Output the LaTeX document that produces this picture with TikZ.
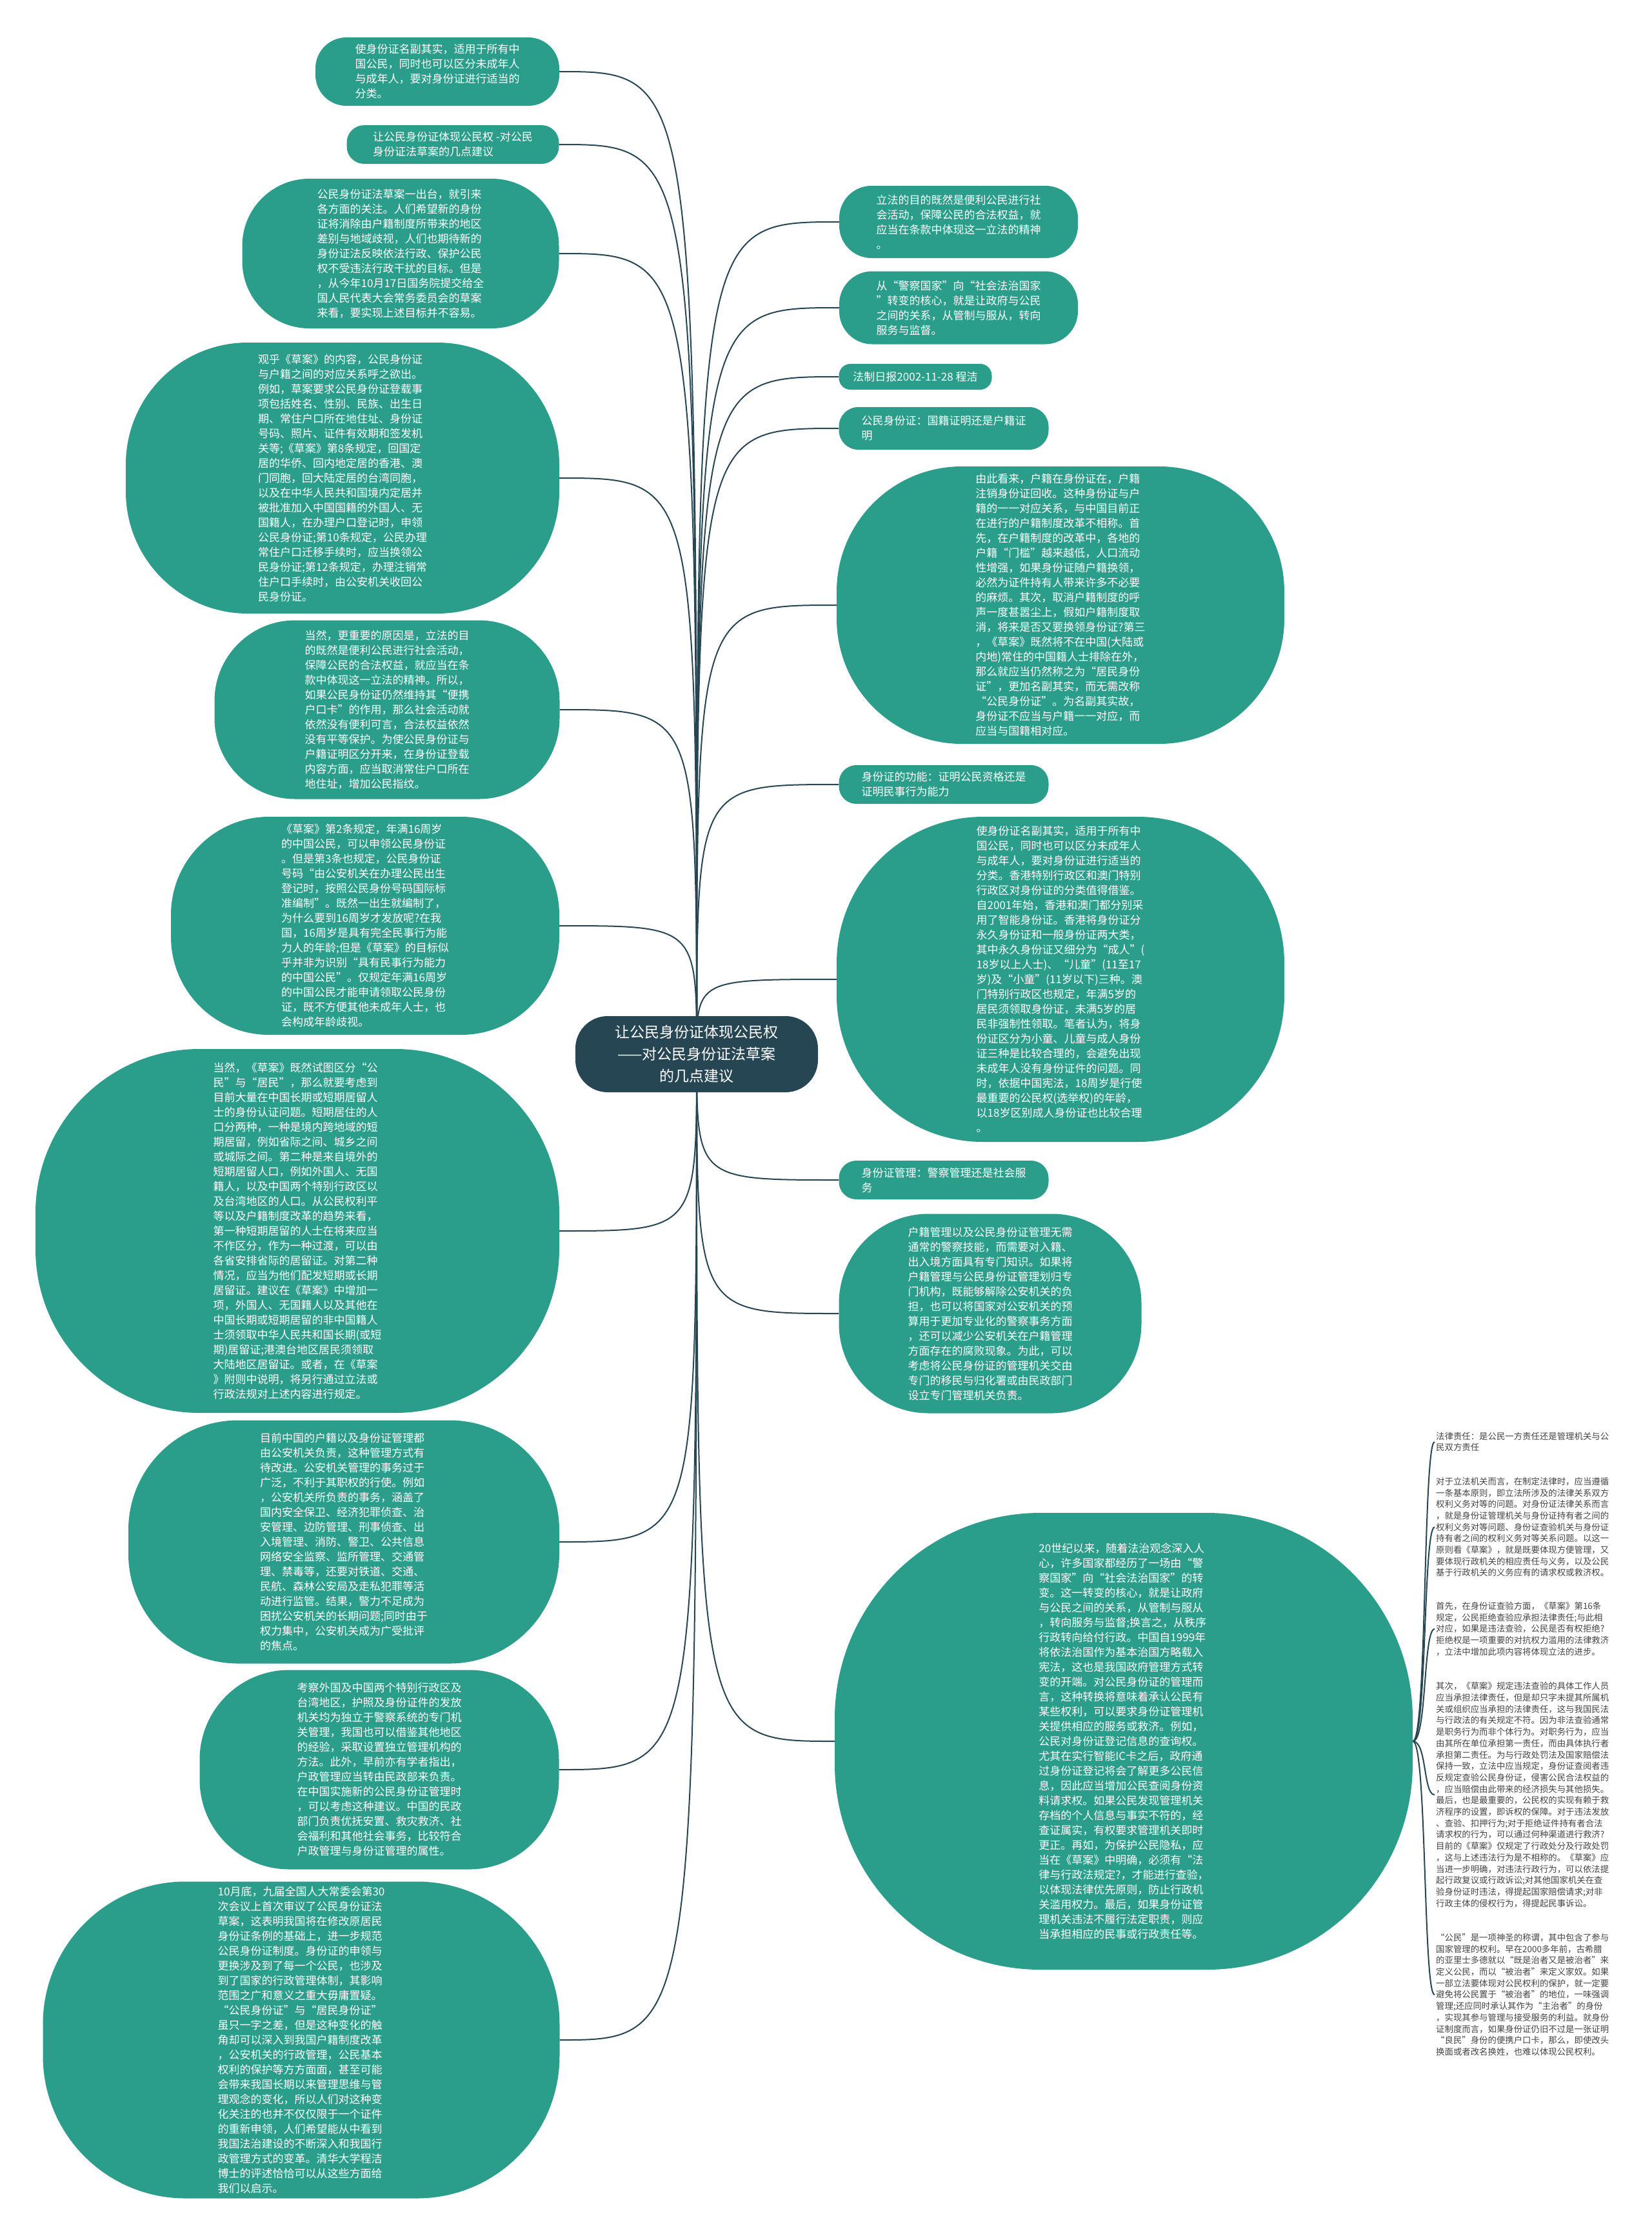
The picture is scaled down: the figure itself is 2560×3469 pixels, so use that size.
\documentclass[tikz,border=0pt]{standalone}
\usepackage{fontspec}
\setmainfont{Noto Sans CJK SC}
\definecolor{teal0}{HTML}{2B9E8B}
\definecolor{dark0}{HTML}{264653}
\definecolor{gray0}{HTML}{444444}
\pgfdeclarelayer{bg}
\pgfsetlayers{bg,main}
\tikzset{
  bub/.style={fill=teal0, text=white, align=left, inner sep=0pt, font=\fontsize{17}{23}\selectfont},
  centre/.style={fill=dark0, text=white, align=center, inner sep=0pt, font=\fontsize{23}{34}\selectfont,
    minimum width=376pt, minimum height=118pt, rounded corners=50pt},
  conn/.style={draw=dark0, line width=2pt},
  ptext/.style={text=gray0, align=left, inner sep=2pt, anchor=west, font=\fontsize{13.4}{17.7}\selectfont},
}
\newcommand\mmbub[7]{\node[bub, minimum width=#4pt, minimum height=#5pt, rounded corners=#6pt] (#1) at (#2,#3) {#7};}
\begin{document}
\begin{tikzpicture}[x=1pt,y=-1pt]
\useasboundingbox (0,0) rectangle (2560,3469);

\node[centre] (c) at (1080,1634) {让公民身份证体现公民权\\——对公民身份证法草案\\的几点建议};

% left side
\mmbub{l1}{678}{111}{378}{106}{48}{使身份证名副其实，适用于所有中\\国公民，同时也可以区分未成年人\\与成年人，要对身份证进行适当的\\分类。}
\mmbub{l2}{702}{224}{329}{60}{27}{让公民身份证体现公民权 -对公民\\身份证法草案的几点建议}
\mmbub{l3}{621}{393}{491}{232}{104}{公民身份证法草案一出台，就引来\\各方面的关注。人们希望新的身份\\证将消除由户籍制度所带来的地区\\差别与地域歧视，人们也期待新的\\身份证法反映依法行政、保护公民\\权不受违法行政干扰的目标。但是\\，从今年10月17日国务院提交给全\\国人民代表大会常务委员会的草案\\来看，要实现上述目标并不容易。}
\mmbub{l4}{531}{741}{672}{420}{189}{观乎《草案》的内容，公民身份证\\与户籍之间的对应关系呼之欲出。\\例如，草案要求公民身份证登载事\\项包括姓名、性别、民族、出生日\\期、常住户口所在地住址、身份证\\号码、照片、证件有效期和签发机\\关等;《草案》第8条规定，回国定\\居的华侨、回内地定居的香港、澳\\门同胞，回大陆定居的台湾同胞，\\以及在中华人民共和国境内定居并\\被批准加入中国国籍的外国人、无\\国籍人，在办理户口登记时，申领\\公民身份证;第10条规定，公民办理\\常住户口迁移手续时，应当换领公\\民身份证;第12条规定，办理注销常\\住户口手续时，由公安机关收回公\\民身份证。}
\mmbub{l5}{600}{1100}{535}{277}{125}{当然，更重要的原因是，立法的目\\的既然是便利公民进行社会活动，\\保障公民的合法权益，就应当在条\\款中体现这一立法的精神。所以，\\如果公民身份证仍然维持其“便携\\户口卡”的作用，那么社会活动就\\依然没有便利可言，合法权益依然\\没有平等保护。为使公民身份证与\\户籍证明区分开来，在身份证登载\\内容方面，应当取消常住户口所在\\地住址，增加公民指纹。}
\mmbub{l6}{566}{1435}{602}{338}{152}{《草案》第2条规定，年满16周岁\\的中国公民，可以申领公民身份证\\。但是第3条也规定，公民身份证\\号码“由公安机关在办理公民出生\\登记时，按照公民身份号码国际标\\准编制”。既然一出生就编制了，\\为什么要到16周岁才发放呢?在我\\国，16周岁是具有完全民事行为能\\力人的年龄;但是《草案》的目标似\\乎并非为识别“具有民事行为能力\\的中国公民”。仅规定年满16周岁\\的中国公民才能申请领取公民身份\\证，既不方便其他未成年人士，也\\会构成年龄歧视。}
\mmbub{l7}{461}{1908}{812}{564}{254}{当然，《草案》既然试图区分“公\\民”与“居民”，那么就要考虑到\\目前大量在中国长期或短期居留人\\士的身份认证问题。短期居住的人\\口分两种，一种是境内跨地域的短\\期居留，例如省际之间、城乡之间\\或城际之间。第二种是来自境外的\\短期居留人口，例如外国人、无国\\籍人，以及中国两个特别行政区以\\及台湾地区的人口。从公民权利平\\等以及户籍制度改革的趋势来看，\\第一种短期居留的人士在将来应当\\不作区分，作为一种过渡，可以由\\各省安排省际的居留证。对第二种\\情况，应当为他们配发短期或长期\\居留证。建议在《草案》中增加一\\项，外国人、无国籍人以及其他在\\中国长期或短期居留的非中国籍人\\士须领取中华人民共和国长期(或短\\期)居留证;港澳台地区居民须领取\\大陆地区居留证。或者，在《草案\\》附则中说明，将另行通过立法或\\行政法规对上述内容进行规定。}
\mmbub{l8}{533}{2390}{668}{377}{170}{目前中国的户籍以及身份证管理都\\由公安机关负责，这种管理方式有\\待改进。公安机关管理的事务过于\\广泛，不利于其职权的行使。例如\\，公安机关所负责的事务，涵盖了\\国内安全保卫、经济犯罪侦查、治\\安管理、边防管理、刑事侦查、出\\入境管理、消防、警卫、公共信息\\网络安全监察、监所管理、交通管\\理、禁毒等，还要对铁道、交通、\\民航、森林公安局及走私犯罪等活\\动进行监管。结果，警力不足成为\\困扰公安机关的长期问题;同时由于\\权力集中，公安机关成为广受批评\\的焦点。}
\mmbub{l9}{588}{2743}{557}{309}{139}{考察外国及中国两个特别行政区及\\台湾地区，护照及身份证件的发放\\机关均为独立于警察系统的专门机\\关管理，我国也可以借鉴其他地区\\的经验，采取设置独立管理机构的\\方法。此外，早前亦有学者指出，\\户政管理应当转由民政部来负责。\\在中国实施新的公民身份证管理时\\，可以考虑这种建议。中国的民政\\部门负责优抚安置、救灾救济、社\\会福利和其他社会事务，比较符合\\户政管理与身份证管理的属性。}
\mmbub{l10}{467}{3162}{801}{491}{221}{10月底，九届全国人大常委会第30\\次会议上首次审议了公民身份证法\\草案，这表明我国将在修改原居民\\身份证条例的基础上，进一步规范\\公民身份证制度。身份证的申领与\\更换涉及到了每一个公民，也涉及\\到了国家的行政管理体制，其影响\\范围之广和意义之重大毋庸置疑。\\“公民身份证”与“居民身份证”\\虽只一字之差，但是这种变化的触\\角却可以深入到我国户籍制度改革\\，公安机关的行政管理，公民基本\\权利的保护等方方面面，甚至可能\\会带来我国长期以来管理思维与管\\理观念的变化，所以人们对这种变\\化关注的也并不仅仅限于一个证件\\的重新申领，人们希望能从中看到\\我国法治建设的不断深入和我国行\\政管理方式的变革。清华大学程洁\\博士的评述恰恰可以从这些方面给\\我们以启示。}

% right side
\mmbub{r1}{1486}{344}{370}{112}{50}{立法的目的既然是便利公民进行社\\会活动，保障公民的合法权益，就\\应当在条款中体现这一立法的精神\\。}
\mmbub{r2}{1486}{477}{370}{113}{51}{从“警察国家”向“社会法治国家\\”转变的核心，就是让政府与公民\\之间的关系，从管制与服从，转向\\服务与监督。}
\mmbub{r3}{1419}{584}{237}{40}{18}{法制日报2002-11-28 程洁}
\mmbub{r4}{1463}{664}{325}{66}{30}{公民身份证：国籍证明还是户籍证\\明}
\mmbub{r5}{1644}{938}{694}{430}{194}{由此看来，户籍在身份证在，户籍\\注销身份证回收。这种身份证与户\\籍的一一对应关系，与中国目前正\\在进行的户籍制度改革不相称。首\\先，在户籍制度的改革中，各地的\\户籍“门槛”越来越低，人口流动\\性增强，如果身份证随户籍换领，\\必然为证件持有人带来许多不必要\\的麻烦。其次，取消户籍制度的呼\\声一度甚嚣尘上，假如户籍制度取\\消，将来是否又要换领身份证?第三\\，《草案》既然将不在中国(大陆或\\内地)常住的中国籍人士排除在外，\\那么就应当仍然称之为“居民身份\\证”，更加名副其实，而无需改称\\“公民身份证”。为名副其实故，\\身份证不应当与户籍一一对应，而\\应当与国籍相对应。}
\mmbub{r6}{1463}{1216}{325}{60}{27}{身份证的功能：证明公民资格还是\\证明民事行为能力}
\mmbub{r7}{1644}{1518}{694}{504}{227}{使身份证名副其实，适用于所有中\\国公民，同时也可以区分未成年人\\与成年人，要对身份证进行适当的\\分类。香港特别行政区和澳门特别\\行政区对身份证的分类值得借鉴。\\自2001年始，香港和澳门都分别采\\用了智能身份证。香港将身份证分\\永久身份证和一般身份证两大类，\\其中永久身份证又细分为“成人”(\\18岁以上人士)、“儿童”(11至17\\岁)及“小童”(11岁以下)三种。澳\\门特别行政区也规定，年满5岁的\\居民须领取身份证，未满5岁的居\\民非强制性领取。笔者认为，将身\\份证区分为小童、儿童与成人身份\\证三种是比较合理的，会避免出现\\未成年人没有身份证件的问题。同\\时，依据中国宪法，18周岁是行使\\最重要的公民权(选举权)的年龄，\\以18岁区别成人身份证也比较合理\\。}
\mmbub{r8}{1463}{1829}{325}{60}{27}{身份证管理：警察管理还是社会服\\务}
\mmbub{r9}{1535}{2036}{469}{309}{139}{户籍管理以及公民身份证管理无需\\通常的警察技能，而需要对入籍、\\出入境方面具有专门知识。如果将\\户籍管理与公民身份证管理划归专\\门机构，既能够解除公安机关的负\\担，也可以将国家对公安机关的预\\算用于更加专业化的警察事务方面\\，还可以减少公安机关在户籍管理\\方面存在的腐败现象。为此，可以\\考虑将公民身份证的管理机关交由\\专门的移民与归化署或由民政部门\\设立专门管理机关负责。}
\mmbub{r10}{1742}{2699}{896}{708}{319}{20世纪以来，随着法治观念深入人\\心，许多国家都经历了一场由“警\\察国家”向“社会法治国家”的转\\变。这一转变的核心，就是让政府\\与公民之间的关系，从管制与服从\\，转向服务与监督;换言之，从秩序\\行政转向给付行政。中国自1999年\\将依法治国作为基本治国方略载入\\宪法，这也是我国政府管理方式转\\变的开端。对公民身份证的管理而\\言，这种转换将意味着承认公民有\\某些权利，可以要求身份证管理机\\关提供相应的服务或救济。例如，\\公民对身份证登记信息的查询权。\\尤其在实行智能IC卡之后，政府通\\过身份证登记将会了解更多公民信\\息，因此应当增加公民查阅身份资\\料请求权。如果公民发现管理机关\\存档的个人信息与事实不符的，经\\查证属实，有权要求管理机关即时\\更正。再如，为保护公民隐私，应\\当在《草案》中明确，必须有“法\\律与行政法规定?，才能进行查验，\\以体现法律优先原则，防止行政机\\关滥用权力。最后，如果身份证管\\理机关违法不履行法定职责，则应\\当承担相应的民事或行政责任等。}

% free paragraphs
\node[ptext] (p1) at (2224,2235) {法律责任：是公民一方责任还是管理机关与公\\民双方责任};
\node[ptext] (p2) at (2224,2367) {对于立法机关而言，在制定法律时，应当遵循\\一条基本原则，即立法所涉及的法律关系双方\\权利义务对等的问题。对身份证法律关系而言\\，就是身份证管理机关与身份证持有者之间的\\权利义务对等问题、身份证查验机关与身份证\\持有者之间的权利义务对等关系问题。以这一\\原则看《草案》，就是既要体现方便管理，又\\要体现行政机关的相应责任与义务，以及公民\\基于行政机关的义务应有的请求权或救济权。};
\node[ptext] (p3) at (2224,2525) {首先，在身份证查验方面，《草案》第16条\\规定，公民拒绝查验应承担法律责任;与此相\\对应，如果是违法查验，公民是否有权拒绝?\\拒绝权是一项重要的对抗权力滥用的法律救济\\，立法中增加此项内容将体现立法的进步。};
\node[ptext] (p4) at (2224,2782) {其次，《草案》规定违法查验的具体工作人员\\应当承担法律责任，但是却只字未提其所属机\\关或组织应当承担的法律责任，这与我国民法\\与行政法的有关规定不符。因为非法查验通常\\是职务行为而非个体行为。对职务行为，应当\\由其所在单位承担第一责任，而由具体执行者\\承担第二责任。为与行政处罚法及国家赔偿法\\保持一致，立法中应当规定，身份证查阅者违\\反规定查验公民身份证，侵害公民合法权益的\\，应当赔偿由此带来的经济损失与其他损失。\\最后，也是最重要的，公民权的实现有赖于救\\济程序的设置，即诉权的保障。对于违法发放\\、查验、扣押行为;对于拒绝证件持有者合法\\请求权的行为，可以通过何种渠道进行救济?\\目前的《草案》仅规定了行政处分及行政处罚\\，这与上述违法行为是不相称的。《草案》应\\当进一步明确，对违法行政行为，可以依法提\\起行政复议或行政诉讼;对其他国家机关在查\\验身份证时违法，得提起国家赔偿请求;对非\\行政主体的侵权行为，得提起民事诉讼。};
\node[ptext] (p5) at (2224,3092) {“公民”是一项神圣的称谓，其中包含了参与\\国家管理的权利。早在2000多年前，古希腊\\的亚里士多德就以“既是治者又是被治者”来\\定义公民，而以“被治者”来定义家奴。如果\\一部立法要体现对公民权利的保护，就一定要\\避免将公民置于“被治者”的地位，一味强调\\管理;还应同时承认其作为“主治者”的身份\\，实现其参与管理与接受服务的利益。就身份\\证制度而言，如果身份证仍旧不过是一张证明\\“良民”身份的便携户口卡，那么，即使改头\\换面或者改名换姓，也难以体现公民权利。};

\begin{pgfonlayer}{bg}
\fill[white] (0,0) rectangle (2560,3469);
\foreach \n in {l1,l2,l3,l4,l5,l6,l7,l8,l9,l10}
  \draw[conn] (c.center) .. controls (c.center |- \n.east) .. (\n.east);
\foreach \n in {r1,r2,r3,r4,r5,r6,r7,r8,r9,r10}
  \draw[conn] (c.center) .. controls (c.center |- \n.west) .. (\n.west);
\foreach \n in {p1,p2,p3,p4,p5}
  \draw[conn] (r10.east) .. controls +(22,0) and +(-18,0) .. (\n.west);
\end{pgfonlayer}
\end{tikzpicture}
\end{document}
